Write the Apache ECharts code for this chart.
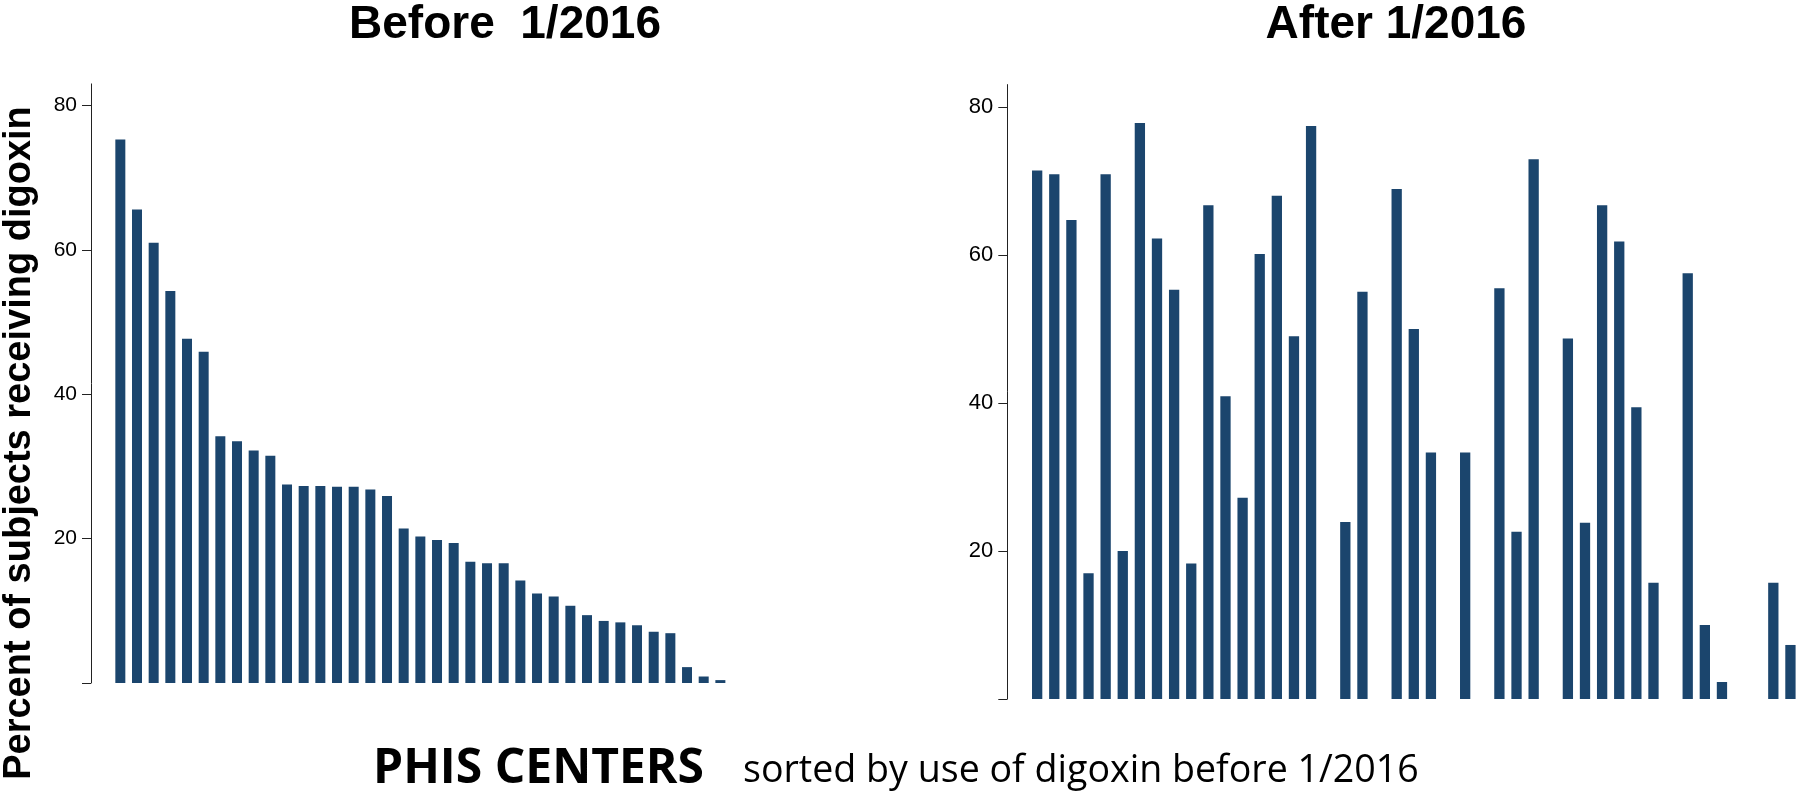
<!DOCTYPE html>
<html>
<head>
<meta charset="utf-8">
<script src="https://cdn.jsdelivr.net/npm/echarts@6/dist/echarts.min.js"></script>
<style>
html,body{margin:0;padding:0;background:#fff;}
#chart{width:1800px;height:799px;}
</style>
</head>
<body>
<div id="chart"></div>
<script>
// ---- data ----
const beforeValues = [75.3, 65.6, 61.0, 54.3, 47.7, 45.9, 34.2, 33.5, 32.2, 31.5, 27.5, 27.3, 27.3, 27.2, 27.2, 26.8, 25.9, 21.4, 20.3, 19.8, 19.4, 16.8, 16.6, 16.6, 14.2, 12.4, 12.0, 10.7, 9.4, 8.6, 8.4, 8.0, 7.1, 6.9, 2.2, 0.9, 0.4];
const afterValues = [71.4, 70.9, 64.7, 17.0, 70.9, 20.0, 77.8, 62.2, 55.3, 18.3, 66.7, 40.9, 27.2, 60.1, 68.0, 49.0, 77.4, null, 23.9, 55.0, null, 68.9, 50.0, 33.3, null, 33.3, null, 55.5, 22.6, 72.9, null, 48.7, 23.8, 66.7, 61.8, 39.4, 15.7, null, 57.5, 10.0, 2.3, null, null, 15.7, 7.3];
const beforeCenters = beforeValues.map((v, i) => 'B' + (i + 1));
const afterCenters = afterValues.map((v, i) => 'A' + (i + 1));
const tickValues = [0, 20, 40, 60, 80];
const labelValues = [20, 40, 60, 80];
const titleBefore = 'Before  1/2016';
const titleAfter = 'After 1/2016';
const yName = 'Percent of subjects receiving digoxin';
const xNameBold = 'PHIS CENTERS';
const xNameRest = 'sorted by use of digoxin before 1/2016';

const barColor = '#1b456d';

function yAxisCfg(gridIndex, offset, fontSize) {
  return {
    type: 'value', gridIndex: gridIndex, min: 0, max: 83, interval: 20,
    offset: offset,
    splitLine: { show: false },
    axisLine: { show: true, lineStyle: { color: '#222', width: 1 } },
    axisTick: { show: true, length: 9, lineStyle: { color: '#222', width: 1 }, customValues: tickValues },
    axisLabel: { show: true, margin: 14, color: '#000', fontFamily: 'Liberation Sans, Arial, sans-serif', fontSize: fontSize, customValues: labelValues }
  };
}
function xAxisCfg(gridIndex, cats) {
  return {
    type: 'category', gridIndex: gridIndex, data: cats,
    axisLine: { show: false }, axisTick: { show: false }, axisLabel: { show: false }, splitLine: { show: false }
  };
}

const chart = echarts.init(document.getElementById('chart'), null, { renderer: 'canvas' });
chart.setOption({
  animation: false,
  backgroundColor: '#fff',
  grid: [
    { left: 112, top: 83.9, width: 616.7, height: 599.1 },
    { left: 1028.6, top: 84.6, width: 770.4, height: 614.4 }
  ],
  xAxis: [xAxisCfg(0, beforeCenters), xAxisCfg(1, afterCenters)],
  yAxis: [yAxisCfg(0, 21, 21), yAxisCfg(1, 21.3, 22)],
  series: [
    { type: 'bar', xAxisIndex: 0, yAxisIndex: 0, data: beforeValues, barWidth: 10, itemStyle: { color: barColor } },
    { type: 'bar', xAxisIndex: 1, yAxisIndex: 1, data: afterValues, barWidth: 10.3, itemStyle: { color: barColor } }
  ],
  graphic: [
    { type: 'text', x: 505, y: 25, style: { text: titleBefore, font: 'bold 46px "Liberation Sans", Arial, sans-serif', fill: '#000', align: 'center', verticalAlign: 'middle' } },
    { type: 'text', x: 1396, y: 25, style: { text: titleAfter, font: 'bold 46px "Liberation Sans", Arial, sans-serif', fill: '#000', align: 'center', verticalAlign: 'middle' } },
    { type: 'text', x: 20, y: 443, rotation: Math.PI / 2, style: { text: yName, font: 'bold 38px "Liberation Sans", Arial, sans-serif', fill: '#000', align: 'center', verticalAlign: 'middle' } },
    { type: 'text', x: 373, y: 769, style: { text: xNameBold, font: 'bold 48px "Open Sans", sans-serif', fill: '#000', align: 'left', verticalAlign: 'middle' } },
    { type: 'text', x: 743, y: 771, style: { text: xNameRest, font: '37.6px "Open Sans", sans-serif', fill: '#000', align: 'left', verticalAlign: 'middle' } }
  ]
});
</script>
</body>
</html>
